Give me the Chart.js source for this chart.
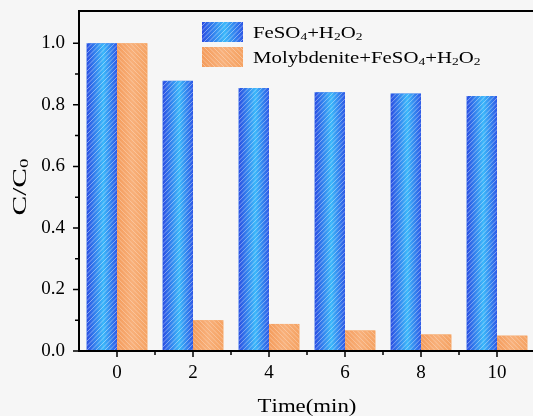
<!DOCTYPE html>
<html lang="en">
<head>
  <meta charset="UTF-8" />
  <title>C/C0 vs time</title>
  <script src="https://cdn.jsdelivr.net/npm/chart.js"></script>
  <style>
    html, body {
      margin: 0;
      padding: 0;
      background: #f6f6f6;
      overflow: hidden;
    }
    .wrap {
      position: relative;
      width: 540px;
      height: 416px;
    }
  </style>
</head>
<body>
<div class="wrap"><canvas id="chart"></canvas></div>

<script>
  // data
  const categories = ['0', '2', '4', '6', '8', '10'];
  const fentonValues = [1.0, 0.878, 0.855, 0.841, 0.837, 0.829];
  const molyValues = [1.0, 0.10, 0.088, 0.067, 0.054, 0.050];
  const seriesLabels = ['FeSO₄+H₂O₂', 'Molybdenite+FeSO₄+H₂O₂'];
  const yLabelTicks = [0, 0.2, 0.4, 0.6, 0.8, 1.0];
  const yMinorTicks = [0.1, 0.3, 0.5, 0.7, 0.9];

  const SERIF = '"Liberation Serif", "Times New Roman", serif';
  const SUBS = '₀₁₂₃₄₅₆₇₈₉';

  // text with unicode subscripts drawn as small lowered digits
  function richWidth(ctx, text, size) {
    let w = 0;
    for (const ch of text) {
      const i = SUBS.indexOf(ch);
      ctx.font = (i >= 0 ? size * 0.65 : size) + 'px ' + SERIF;
      w += ctx.measureText(i >= 0 ? String(i) : ch).width;
    }
    return w;
  }
  function drawRich(ctx, text, x, y, size) {
    ctx.textBaseline = 'alphabetic';
    ctx.textAlign = 'left';
    for (const ch of text) {
      const i = SUBS.indexOf(ch);
      if (i >= 0) {
        ctx.font = (size * 0.65) + 'px ' + SERIF;
        ctx.fillText(String(i), x, y + size * 0.12);
        x += ctx.measureText(String(i)).width;
      } else {
        ctx.font = size + 'px ' + SERIF;
        ctx.fillText(ch, x, y);
        x += ctx.measureText(ch).width;
      }
    }
  }
  // the figure's text is stretched along the writing direction
  function drawStretched(ctx, text, x, y, size, sx) {
    ctx.save();
    ctx.translate(x, y);
    ctx.scale(sx, 1);
    drawRich(ctx, text, 0, 0, size);
    ctx.restore();
  }

  // gradient + white hatching, like the original figure
  function fillBar(ctx, x, y, w, h, kind) {
    if (h <= 0) return;
    ctx.save();
    ctx.beginPath();
    ctx.rect(x, y, w, h);
    ctx.clip();
    const g = ctx.createLinearGradient(x, 0, x + w, 0);
    if (kind === 0) {
      g.addColorStop(0, '#2b4de2');
      g.addColorStop(0.55, '#3cb8fa');
      g.addColorStop(1, '#2d58e6');
    } else {
      g.addColorStop(0, '#f49c5c');
      g.addColorStop(0.5, '#f8b07a');
      g.addColorStop(1, '#f5a262');
    }
    ctx.fillStyle = g;
    ctx.fillRect(x, y, w, h);
    ctx.strokeStyle = kind === 0 ? 'rgba(255,255,255,0.45)' : 'rgba(255,255,255,0.35)';
    ctx.lineWidth = 0.9;
    ctx.beginPath();
    const step = 4.5;
    for (let s = -h - w; s < w + h; s += step) {
      if (kind === 0) {
        ctx.moveTo(x + s, y + h);
        ctx.lineTo(x + s + h, y);
      } else {
        ctx.moveTo(x + s, y);
        ctx.lineTo(x + s + h, y + h);
      }
    }
    ctx.stroke();
    ctx.restore();
  }

  const decor = {
    id: 'decor',
    beforeDraw(chart) {
      const ctx = chart.ctx;
      ctx.save();
      ctx.fillStyle = '#f6f6f6';
      ctx.fillRect(0, 0, chart.width, chart.height);
      ctx.restore();
    },
    afterDatasetsDraw(chart) {
      const ctx = chart.ctx;
      chart.data.datasets.forEach((ds, di) => {
        chart.getDatasetMeta(di).data.forEach(el => {
          const p = el.getProps(['x', 'y', 'base', 'width'], true);
          fillBar(ctx, p.x - p.width / 2, p.y, p.width, p.base - p.y, di);
        });
      });
    },
    afterDraw(chart) {
      const ctx = chart.ctx;
      const a = chart.chartArea;
      const xs = chart.scales.x, ys = chart.scales.y;
      ctx.save();
      ctx.strokeStyle = '#000';
      ctx.lineWidth = 2;
      // frame: left, bottom, top
      ctx.beginPath();
      ctx.moveTo(a.left, a.top);
      ctx.lineTo(a.right + 5, a.top);
      ctx.moveTo(a.left, a.top - 1);
      ctx.lineTo(a.left, a.bottom);
      ctx.lineTo(a.right + 5, a.bottom);
      ctx.stroke();
      // y ticks
      ctx.lineWidth = 1.5;
      ctx.beginPath();
      yLabelTicks.forEach(v => {
        const py = ys.getPixelForValue(v);
        ctx.moveTo(a.left, py);
        ctx.lineTo(a.left - 6, py);
      });
      yMinorTicks.forEach(v => {
        const py = ys.getPixelForValue(v);
        ctx.moveTo(a.left, py);
        ctx.lineTo(a.left - 4, py);
      });
      // x ticks: centres and category boundaries
      const half = (xs.getPixelForValue(1) - xs.getPixelForValue(0)) / 2;
      categories.forEach((c, i) => {
        const px = xs.getPixelForValue(i);
        ctx.moveTo(px, a.bottom);
        ctx.lineTo(px, a.bottom + 6);
        if (i > 0) {
          ctx.moveTo(px - half, a.bottom);
          ctx.lineTo(px - half, a.bottom + 4);
        }
      });
      ctx.stroke();

      // axis titles
      ctx.fillStyle = '#000';
      const tx = 'Time(min)';
      const txs = 1.2;
      drawStretched(ctx, tx, (a.left + a.right) / 2 - richWidth(ctx, tx, 19) * txs / 2, 412, 19, txs);
      const ty = 'C/C₀';
      const tys = 1.55;
      ctx.save();
      ctx.translate(26, 187);
      ctx.rotate(-Math.PI / 2);
      drawStretched(ctx, ty, -richWidth(ctx, ty, 19) * tys / 2, 0, 19, tys);
      ctx.restore();

      // legend
      const lx = 202, ly = [22, 47];
      seriesLabels.forEach((lab, i) => {
        fillBar(ctx, lx, ly[i], 41, 20, i);
        ctx.fillStyle = '#000';
        drawStretched(ctx, lab, lx + 51, ly[i] + 16, 16, 1.3);
      });
      ctx.restore();
    }
  };

  new Chart(document.getElementById('chart'), {
    type: 'bar',
    data: {
      labels: categories,
      datasets: [
        { label: seriesLabels[0], data: fentonValues, backgroundColor: '#3a7cf0', borderWidth: 0 },
        { label: seriesLabels[1], data: molyValues, backgroundColor: '#f6a868', borderWidth: 0 }
      ]
    },
    options: {
      responsive: true,
      maintainAspectRatio: false,
      animation: false,
      events: [],
      layout: { padding: { top: 11, right: 5, left: 0, bottom: 0 } },
      datasets: { bar: { categoryPercentage: 0.8, barPercentage: 1.0 } },
      plugins: { legend: { display: false }, tooltip: { enabled: false } },
      scales: {
        x: {
          grid: { display: false },
          border: { display: false },
          ticks: {
            color: '#000',
            font: { family: SERIF, size: 19 },
            padding: 3,
            maxRotation: 0
          },
          afterFit(s) { s.height = 65; s.paddingLeft = 0; s.paddingRight = 0; }
        },
        y: {
          min: 0,
          max: 1.105,
          grid: { display: false },
          border: { display: false },
          ticks: {
            stepSize: 0.2,
            color: '#000',
            font: { family: SERIF, size: 19 },
            padding: 6,
            callback: v => (v <= 1.0001 ? v.toFixed(1) : '')
          },
          afterFit(s) { s.width = 79; s.paddingTop = 0; s.paddingBottom = 0; }
        }
      }
    },
    plugins: [decor]
  });
</script>
</body>
</html>
